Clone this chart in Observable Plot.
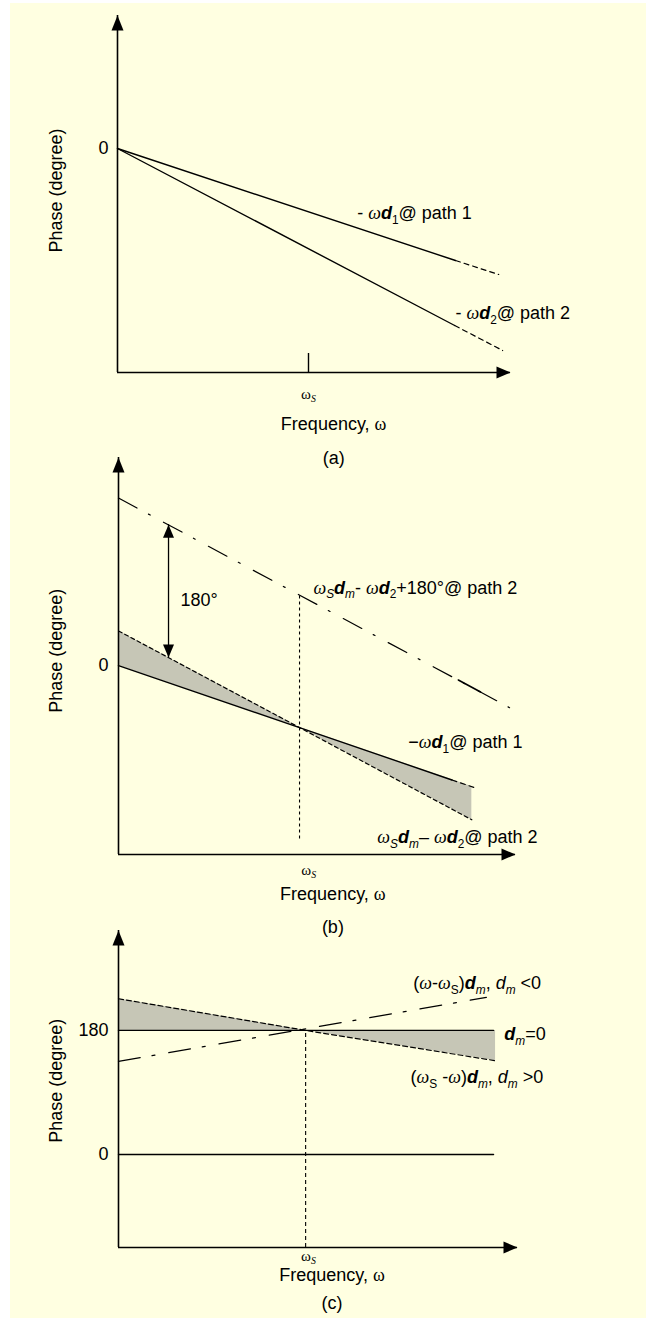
<!DOCTYPE html>
<html>
<head>
<meta charset="utf-8">
<script src="https://cdn.jsdelivr.net/npm/d3@7"></script>
<script src="https://cdn.jsdelivr.net/npm/@observablehq/plot@0.6"></script>
<style>
  html, body { margin: 0; padding: 0; background: #ffffff; }
  #page { position: relative; width: 646px; height: 1318px; overflow: hidden; }
  #bg { position: absolute; left: 10px; top: 3px; right: 0; bottom: 0; background: #ffffe1; }
</style>
</head>
<body>
<div id="page"><div id="bg"></div></div>
<script>
const FS = 18;
const SANS = "'Liberation Sans', Arial, Helvetica, sans-serif";
const SERIF = "'Liberation Serif', 'Times New Roman', serif";

// ---------------- Panel (a) data ----------------
const aXDomain = [0, 10];
const aYDomain = [-224, 133];
const aOmegaS = 4.86;
const aTickSpan = [-224, -205];
const aYTicks = [0];
const aPath1 = [{w: 0, p: 0}, {w: 8.6, p: -112}];
const aPath1Ext = [{w: 8.6, p: -112}, {w: 9.7, p: -126}];
const aPath2 = [{w: 0, p: 0}, {w: 8.58, p: -177}];
const aPath2Ext = [{w: 8.58, p: -177}, {w: 9.8, p: -202}];
const aLabels = [
  {w: 6.1, p: -65, t: "- ωd1@ path 1"},
  {w: 8.6, p: -165, t: "- ωd2@ path 2"}
];
const aYTitle = {w: 0, p: -42};
const aCaptionW = 5.5;

// ---------------- Panel (b) data ----------------
const bXDomain = [0, 10];
const bYDomain = [-256, 282];
const bOmegaS = 4.56;
const bOmegaSLabel = 4.79;
const bYTicks = [0];
const bPath1 = [{w: 0, p: 0}, {w: 4.56, p: -84}, {w: 8.4, p: -155}];
const bPath1Ext = [{w: 8.4, p: -155}, {w: 9.0, p: -166}];
const bPath2 = [{w: 0, p: 47}, {w: 4.56, p: -84}, {w: 8.9, p: -209}];
const bPath2Shift = [{w: 0, p: 227}, {w: 9.85, p: -57}];
const bPath2ShiftSolid = [{w: 8.56, p: -19.5}, {w: 9.12, p: -35.7}];
const bShade = [
  {w: 0, lo: 0, hi: 47},
  {w: 4.56, lo: -84, hi: -84},
  {w: 8.9, lo: -164, hi: -209}
];
const bArrow = [{w: 1.26, from: 11, to: 191}];
const bVertical = [{w: 4.56, from: -235, to: 96}];
const bLabels = [
  {w: 4.91, p: 105.5, t: "ωSdm- ωd2+180°@ path 2"},
  {w: 1.56, p: 88, t: "180°"},
  {w: 7.3, p: -104, t: "−ωd1@ path 1"},
  {w: 6.52, p: -233, t: "ωSdm– ωd2@ path 2"}
];
const bYTitle = {w: 0, p: 20};
const bCaptionW = 5.4;

// ---------------- Panel (c) data ----------------
const cXDomain = [0, 10];
const cYDomain = [-135, 325];
const cOmegaS = 4.69;
const cOmegaSLabel = 4.76;
const cYTicks = [0, 180];
const cRef180 = [{w: 0, p: 180}, {w: 9.4, p: 180}];
const cZero = [{w: 0, p: 0}, {w: 9.4, p: 0}];
const cPositive = [{w: 0, p: 226}, {w: 4.69, p: 180}, {w: 9.45, p: 136}];
const cNegative = [{w: 0, p: 135}, {w: 9.22, p: 228}];
const cShade = [
  {w: 0, lo: 180, hi: 226},
  {w: 4.69, lo: 180, hi: 180},
  {w: 9.45, lo: 180, hi: 136}
];
const cVertical = [{w: 4.69, from: -135, to: 180}];
const cLabels = [
  {w: 7.39, p: 248, t: "(ω-ωS)dm, dm <0"},
  {w: 9.67, p: 174, t: "dm=0"},
  {w: 7.32, p: 112, t: "(ωS -ω)dm, dm >0"}
];
const cYTitle = {w: 0, p: 107};
const cCaptionW = 5.35;

// ---------------- rich text ----------------
const RICH = {
  "ωS": [["ω", "w"], ["S", "wis"]],
  "Frequency, ω": [["Frequency, "], ["ω", "w"]],
  "- ωd1@ path 1": [["- "], ["ω", "wi"], ["d", "bi"], ["1", "s"], ["@ path 1"]],
  "- ωd2@ path 2": [["- "], ["ω", "wi"], ["d", "bi"], ["2", "s"], ["@ path 2"]],
  "ωSdm- ωd2+180°@ path 2": [["ω", "wi"], ["S", "is"], ["d", "bi"], ["m", "is"], ["- "], ["ω", "wi"], ["d", "bi"], ["2", "s"], ["+180°@ path 2"]],
  "−ωd1@ path 1": [["−"], ["ω", "wi"], ["d", "bi"], ["1", "s"], ["@ path 1"]],
  "ωSdm– ωd2@ path 2": [["ω", "wi"], ["S", "is"], ["d", "bi"], ["m", "is"], ["– "], ["ω", "wi"], ["d", "bi"], ["2", "s"], ["@ path 2"]],
  "(ω-ωS)dm, dm <0": [["("], ["ω", "wi"], ["-"], ["ω", "wi"], ["S", "s"], [")"], ["d", "bi"], ["m", "is"], [", "], ["d", "i"], ["m", "is"], [" <0"]],
  "dm=0": [["d", "bi"], ["m", "is"], ["=0"]],
  "(ωS -ω)dm, dm >0": [["("], ["ω", "wi"], ["S", "s"], [" -"], ["ω", "wi"], [")"], ["d", "bi"], ["m", "is"], [", "], ["d", "i"], ["m", "is"], [" >0"]]
};

function enrich(svg) {
  svg.querySelectorAll("text").forEach(el => {
    const segs = RICH[el.textContent];
    if (!segs) return;
    const g = el.parentNode;
    const size = parseFloat(g && g.getAttribute && g.getAttribute("font-size")) || FS;
    el.textContent = "";
    let shift = 0;
    for (const [t, f = ""] of segs) {
      const ts = document.createElementNS("http://www.w3.org/2000/svg", "tspan");
      ts.textContent = t;
      if (f.includes("w")) ts.setAttribute("font-family", SERIF);
      if (f.includes("i")) ts.setAttribute("font-style", "italic");
      if (f.includes("b")) ts.setAttribute("font-weight", "bold");
      const sub = f.includes("s");
      const target = sub ? 0.25 * size : 0;
      if (target !== shift) { ts.setAttribute("dy", target - shift); shift = target; }
      if (sub) ts.setAttribute("font-size", 0.66 * size);
      el.appendChild(ts);
    }
  });
}

// ---------------- arrow-head symbols ----------------
function head(dir, L, W) {
  return {draw(c) {
    c.moveTo(0, 0);
    if (dir === "up") { c.lineTo(W / 2, L); c.lineTo(-W / 2, L); }
    else if (dir === "down") { c.lineTo(W / 2, -L); c.lineTo(-W / 2, -L); }
    else { c.lineTo(-L, W / 2); c.lineTo(-L, -W / 2); }
    c.closePath();
  }};
}
const UP = head("up", 15, 12), RIGHT = head("right", 14, 12);
const SUP = head("up", 13, 11), SDOWN = head("down", 13, 11);

function axesMarks(xd, yd) {
  return [
    Plot.ruleX([xd[0]], {y1: yd[0], y2: yd[1], stroke: "#000", strokeWidth: 1.6}),
    Plot.ruleY([yd[0]], {x1: xd[0], x2: xd[1], stroke: "#000", strokeWidth: 1.6}),
    Plot.dot([{w: xd[0], p: yd[1]}], {x: "w", y: "p", symbol: UP, fill: "#000"}),
    Plot.dot([{w: xd[1], p: yd[0]}], {x: "w", y: "p", symbol: RIGHT, fill: "#000"})
  ];
}
function line(data, opts = {}) {
  return Plot.line(data, {x: "w", y: "p", stroke: "#000", strokeWidth: 1.4, ...opts});
}
function labels(data) {
  return Plot.text(data, {x: "w", y: "p", text: "t", textAnchor: "start", fontSize: FS});
}
function yTitle(pt, dx) {
  return Plot.text([pt], {x: "w", y: "p", text: () => "Phase (degree)", rotate: -90, dx, fontSize: FS});
}
function captions(wS, wC, tag, dys) {
  return [
    Plot.text([{w: wS}], {x: "w", frameAnchor: "bottom", dy: dys[0], text: () => "ωS", fontSize: 15}),
    Plot.text([{w: wC}], {x: "w", frameAnchor: "bottom", dy: dys[1], text: () => "Frequency, ω", fontSize: FS}),
    Plot.text([{w: wC}], {x: "w", frameAnchor: "bottom", dy: dys[2], text: () => tag, fontSize: FS})
  ];
}

const page = document.getElementById("page");
function panel(cfg) {
  const svg = Plot.plot({
    width: 646, height: cfg.height,
    marginLeft: cfg.ml, marginRight: cfg.mr, marginTop: cfg.mt, marginBottom: cfg.mb,
    x: {domain: cfg.xd, axis: null},
    y: {domain: cfg.yd},
    style: {background: "transparent", overflow: "visible", fontFamily: SANS, fontSize: FS + "px", color: "#000"},
    marks: [
      ...cfg.marks,
      Plot.axisY(cfg.ticks, {tickSize: 0, tickPadding: cfg.tp, label: null, fontSize: FS}),
      ...axesMarks(cfg.xd, cfg.yd)
    ]
  });
  svg.style.position = "absolute";
  svg.style.left = "0px";
  svg.style.top = cfg.top + "px";
  page.appendChild(svg);
  enrich(svg);
}

// ---------------- (a) ----------------
panel({
  top: 0, height: 480, ml: 117, mr: 136, mt: 15, mb: 108, tp: 9,
  xd: aXDomain, yd: aYDomain, ticks: aYTicks,
  marks: [
    line(aPath1), line(aPath1Ext, {strokeDasharray: "5,4", strokeWidth: 1.2}),
    line(aPath2), line(aPath2Ext, {strokeDasharray: "5,4", strokeWidth: 1.2}),
    Plot.ruleX([aOmegaS], {y1: aTickSpan[0], y2: aTickSpan[1], stroke: "#000", strokeWidth: 1.4}),
    labels(aLabels),
    yTitle(aYTitle, -61),
    ...captions(aOmegaS, aCaptionW, "(a)", [26, 57, 91])
  ]
});

// ---------------- (b) ----------------
panel({
  top: 440, height: 505, ml: 118, mr: 131, mt: 17, mb: 91, tp: 10,
  xd: bXDomain, yd: bYDomain, ticks: bYTicks,
  marks: [
    Plot.areaY(bShade, {x: "w", y1: "lo", y2: "hi", fill: "#c6c6b6"}),
    line(bPath1), line(bPath1Ext, {strokeDasharray: "5,4", strokeWidth: 1.2}),
    line(bPath2, {strokeDasharray: "4,3", strokeWidth: 1.2}),
    line(bPath2Shift, {strokeDasharray: "21,13,2,15", strokeWidth: 1.2}),
    line(bPath2ShiftSolid, {strokeWidth: 1.6}),
    Plot.ruleX(bVertical, {x: "w", y1: "from", y2: "to", stroke: "#000", strokeWidth: 1.1, strokeDasharray: "3,3"}),
    Plot.ruleX(bArrow, {x: "w", y1: "from", y2: "to", stroke: "#000", strokeWidth: 1.3}),
    Plot.dot(bArrow, {x: "w", y: "to", symbol: SUP, fill: "#000"}),
    Plot.dot(bArrow, {x: "w", y: "from", symbol: SDOWN, fill: "#000"}),
    labels(bLabels),
    yTitle(bYTitle, -62),
    ...captions(bOmegaSLabel, bCaptionW, "(b)", [20, 45, 78])
  ]
});

// ---------------- (c) ----------------
panel({
  top: 915, height: 403, ml: 118, mr: 129, mt: 15, mb: 71, tp: 10,
  xd: cXDomain, yd: cYDomain, ticks: cYTicks,
  marks: [
    Plot.areaY(cShade, {x: "w", y1: "lo", y2: "hi", fill: "#c6c6b6"}),
    line(cRef180), line(cZero),
    line(cPositive, {strokeDasharray: "5,3", strokeWidth: 1.2}),
    line(cNegative, {strokeDasharray: "22,12,3,14", strokeWidth: 1.2}),
    Plot.ruleX(cVertical, {x: "w", y1: "from", y2: "to", stroke: "#000", strokeWidth: 1.1, strokeDasharray: "4,3"}),
    labels(cLabels),
    yTitle(cYTitle, -62),
    ...captions(cOmegaSLabel, cCaptionW, "(c)", [13, 33, 61])
  ]
});
</script>
</body>
</html>
